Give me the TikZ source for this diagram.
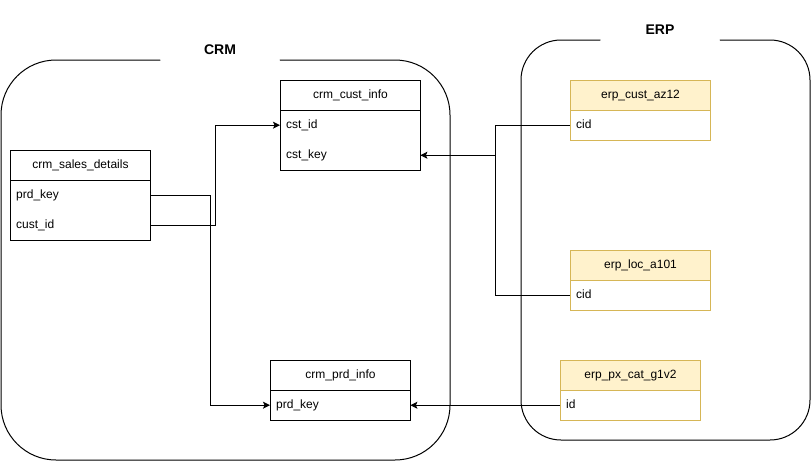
\documentclass[tikz,border=0pt]{standalone}
\usepackage{fontspec}
\setmainfont{Liberation Sans}
\usetikzlibrary{arrows.meta}
\definecolor{erpfill}{HTML}{FFF2CC}
\definecolor{erpline}{HTML}{D6B656}
\begin{document}
\begin{tikzpicture}[x=1pt,y=-1pt,
  every node/.style={font=\fontsize{12}{14}\selectfont},
  hdr/.style={draw, line width=1pt, minimum width=140pt, minimum height=30pt, inner sep=0pt, anchor=north west, fill=white},
  bodybox/.style={draw, line width=1pt, minimum width=140pt, minimum height=#1, inner sep=0pt, anchor=north west, fill=white},
  rowtxt/.style={text width=128pt, align=left, inner xsep=6pt, inner ysep=0pt, minimum height=30pt, anchor=north west, text height=9pt, text depth=3pt},
  erp/.style={draw=erpline, fill=erpfill},
  erpb/.style={draw=erpline},
  group/.style={line width=1pt, line cap=round},
  title/.style={font=\fontsize{14}{16}\selectfont\bfseries},
  conn/.style={line width=1pt, -{Stealth[length=7pt,width=7pt,inset=1.5pt]}},
  plain/.style={line width=1pt}
]
\useasboundingbox (0,0) rectangle (811,461);
% group containers
\draw[group, rounded corners=55pt] (160,60) -- (1,60) -- (1,460) -- (450,460) -- (450,60) -- (280,60);
\node[title] (crmt) at (220,50) {CRM};
\draw[group, rounded corners=40pt] (600,40) -- (521,40) -- (521,440) -- (810,440) -- (810,40) -- (720,40);
\node[title] (erpt) at (660,30) {ERP};

% crm_cust_info
\node[hdr] (ch) at (280,80) {crm\_cust\_info};
\node[bodybox=60pt] (cb) at (280,110) {};
\node[rowtxt] (ci1) at (280,110) {cst\_id};
\node[rowtxt] (ci2) at (280,140) {cst\_key};

% crm_sales_details
\node[hdr] (sh) at (10,150) {crm\_sales\_details};
\node[bodybox=60pt] (sb) at (10,180) {};
\node[rowtxt] (sd1) at (10,180) {prd\_key};
\node[rowtxt] (sd2) at (10,210) {cust\_id};

% crm_prd_info
\node[hdr] (ph) at (270,360) {crm\_prd\_info};
\node[bodybox=30pt] (pb) at (270,390) {};
\node[rowtxt] (pi1) at (270,390) {prd\_key};

% erp_cust_az12
\node[hdr, erp] (eah) at (570,80) {erp\_cust\_az12};
\node[bodybox=30pt, erpb] (eab) at (570,110) {};
\node[rowtxt] (ea1) at (570,110) {cid};

% erp_loc_a101
\node[hdr, erp] (elh) at (570,250) {erp\_loc\_a101};
\node[bodybox=30pt, erpb] (elb) at (570,280) {};
\node[rowtxt] (el1) at (570,280) {cid};

% erp_px_cat_g1v2
\node[hdr, erp] (eph) at (560,360) {erp\_px\_cat\_g1v2};
\node[bodybox=30pt, erpb] (epb) at (560,390) {};
\node[rowtxt] (ep1) at (560,390) {id};

% connectors
\draw[conn] (sd1.east) -- ++(60,0) |- (pi1.west);
\draw[conn] (sd2.east) -- ++(65,0) |- (ci1.west);
\draw[conn] (ea1.west) -- ++(-75,0) |- (ci2.east);
\draw[plain] (el1.west) -- ++(-75,0) |- (ci2.east);
\draw[conn] (ep1.west) -- (pi1.east);
\end{tikzpicture}
\end{document}
